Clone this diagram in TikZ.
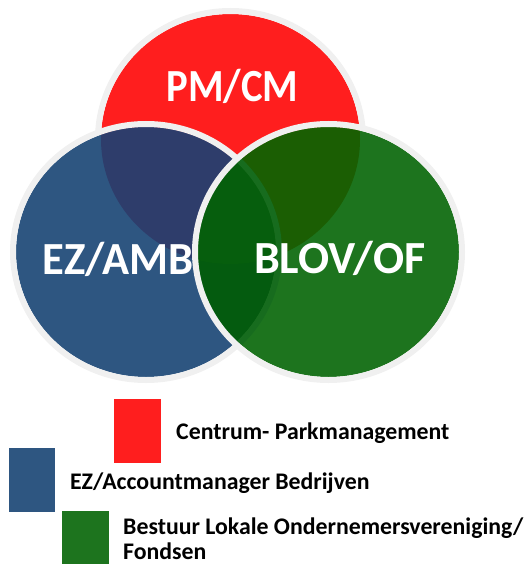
\documentclass[tikz,border=0pt]{standalone}
\usepackage{fontspec}
\setmainfont{Carlito}
\begin{document}
\begin{tikzpicture}[x=1pt,y=-1pt,
  ring/.style={draw=ringgrey,line width=6pt},
  bigtext/.style={text=white,font=\fontsize{46}{50}\selectfont\bfseries,inner sep=0pt,anchor=base},
  legtext/.style={font=\fontsize{23.8}{26}\selectfont\bfseries,inner sep=0pt,anchor=base west},
  swatch/.style={inner sep=0pt,anchor=north west}]
\definecolor{ringgrey}{HTML}{F0F0F0}
\definecolor{cred}{HTML}{FF1E1E}
\definecolor{cblue}{HTML}{2E5681}
\definecolor{cgreen}{HTML}{1D741E}
\definecolor{crb}{HTML}{2E3D6B}
\definecolor{crg}{HTML}{1B5E03}
\definecolor{cbg}{HTML}{045B0F}
\definecolor{crbg}{HTML}{065E0D}
\definecolor{cband}{HTML}{176C1E}
\useasboundingbox (0,0) rectangle (525,564);
% ellipse shapes
\def\redE{(230.5,139) ellipse [x radius=129.5,y radius=125]}
\def\blueE{(146,252) ellipse [x radius=130,y radius=125]}
\def\greenE{(328.5,252) ellipse [x radius=130.5,y radius=125]}
% red layer
\fill[cred] \redE;
\draw[ring] (230.5,139) ellipse [x radius=132.5,y radius=128];
\node[bigtext,xscale=0.885] (pm) at (232.5,102) {PM/CM};
% blue layer
\fill[cblue] \blueE;
\begin{scope}
  \clip \blueE;
  \fill[crb] \redE;
\end{scope}
\node[bigtext,xscale=0.97] (ez) at (118,274) {EZ/AMB};
\draw[ring] (146,252) ellipse [x radius=133,y radius=128];
% green layer
\fill[cgreen] \greenE;
\begin{scope}
  \clip \greenE;
  \fill[crg] \redE;
  \fill[cbg] \blueE;
  \clip \blueE;
  \fill[crbg] \redE;
\end{scope}
\begin{scope}
  \clip \greenE;
  \draw[cband,line width=6pt] (146,252) ellipse [x radius=133,y radius=128];
\end{scope}
\draw[ring] (328.5,252) ellipse [x radius=133.5,y radius=128];
\node[bigtext] (blov) at (340,273) {BLOV/OF};
% legend
\node[swatch,fill=cred,minimum width=47pt,minimum height=64pt] (sr) at (114,399) {};
\node[swatch,fill=cblue,minimum width=46pt,minimum height=64pt] (sb) at (9,448) {};
\node[swatch,fill=cgreen,minimum width=47pt,minimum height=56pt] (sg) at (62,511) {};
\node[legtext] (lr) at (176,439) {Centrum- Parkmanagement};
\node[legtext] (lb) at (70,489) {EZ/Accountmanager Bedrijven};
\node[legtext] (lg) at (123,534) {Bestuur Lokale Ondernemersvereniging/};
\node[legtext] (lg2) at (123,559.5) {Fondsen};
\end{tikzpicture}
\end{document}
